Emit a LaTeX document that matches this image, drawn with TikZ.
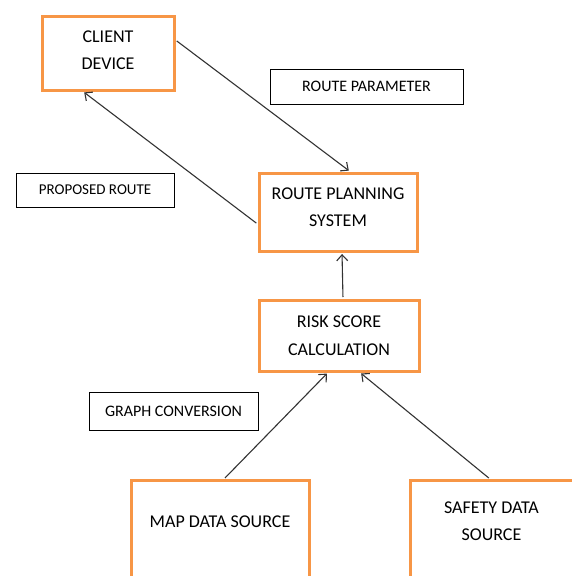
\documentclass[tikz,border=0pt]{standalone}
\usepackage{fontspec}
\setmainfont{Carlito}
\usepackage{tikz}
\usetikzlibrary{arrows.meta}
\definecolor{boxorange}{RGB}{247,150,70}
\definecolor{arrowgray}{RGB}{51,51,51}

\begin{document}
\begin{tikzpicture}[x=1pt,y=-1pt,
        mainbox/.style={draw=boxorange, line width=3pt, fill=white, align=center, inner sep=0pt, font=\fontsize{18}{27.5}\selectfont},
        tagbox/.style={draw=black, line width=0.9pt, inner sep=0pt, font=\fontsize{16}{19}\selectfont},
        flow/.style={draw=arrowgray, line width=1.1pt, shorten >=1.5pt, shorten <=1.5pt, -{Straight Barb[length=6pt,width=11pt]}}]
            \path[use as bounding box, fill=white] (0,0) rectangle (571,576);

            % main blocks
            \node[mainbox, minimum width=132pt, minimum height=74pt, text depth=6pt] (client) at (108,53) {CLIENT\\DEVICE};
            \node[mainbox, minimum width=158pt, minimum height=78pt, text depth=10pt] (rps) at (338,212) {ROUTE PLANNING\\SYSTEM};
            \node[mainbox, minimum width=160pt, minimum height=71pt] (risk) at (339,335.5) {RISK SCORE\\CALCULATION};
            % sources, cut off at the page edge
            \node[mainbox, anchor=north, minimum width=178pt, text height=46.7pt, text depth=110pt] (map) at (220,479) {MAP DATA SOURCE};
            \node[mainbox, anchor=north, minimum width=163pt, text height=60.3pt, text depth=110pt] (safety) at (491.5,479) {SAFETY DATA\\SOURCE};

            % labels
            \node[tagbox, minimum width=193pt, minimum height=35pt] (param) at (366.5,86.5) {ROUTE PARAMETER};
            \node[tagbox, minimum width=158pt, minimum height=34pt, font=\fontsize{15}{18}\selectfont] (proposed) at (95,190) {PROPOSED ROUTE};
            \node[tagbox, minimum width=169pt, minimum height=38pt] (graphconv) at (173.5,411) {GRAPH CONVERSION};

            % arrows
            \draw[flow] ([yshift=13pt]client.east) -- ([xshift=12pt]rps.north);
            \draw[flow] ([yshift=-12pt]rps.west) -- ([xshift=-25pt]client.south);
            \draw[flow] ([xshift=4pt]risk.north) -- ([xshift=4pt]rps.south);
            \draw[flow] ([xshift=4pt]map.north) -- ([xshift=-11pt]risk.south);
            \draw[flow] ([xshift=-1.5pt]safety.north) -- ([xshift=21pt]risk.south);
        \end{tikzpicture}
\end{document}
